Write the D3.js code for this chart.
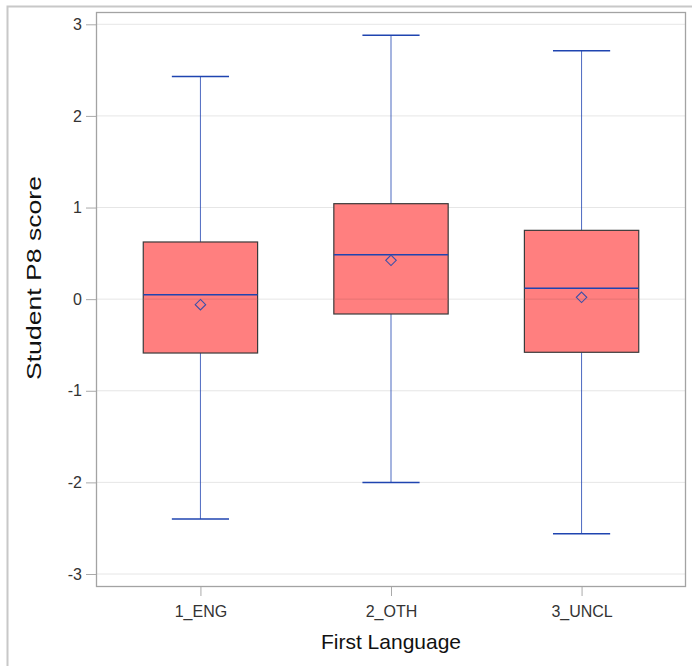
<!DOCTYPE html>
<html><head><meta charset="utf-8">
<script src="https://cdn.jsdelivr.net/npm/d3@7"></script>
<style>body{margin:0;background:#fff}svg{display:block}text{font-family:"Liberation Sans",Arial,sans-serif}</style>
</head><body><svg id="c" width="692" height="666"></svg>
<script>
const categories = ["1_ENG", "2_OTH", "3_UNCL"];
const whiskerMax = [2.43, 2.88, 2.71];
const q3 = [0.624, 1.042, 0.751];
const median = [0.049, 0.485, 0.118];
const mean = [-0.06, 0.424, 0.02];
const q1 = [-0.588, -0.162, -0.58];
const whiskerMin = [-2.40, -2.00, -2.56];
const yTicks = [-3, -2, -1, 0, 1, 2, 3];

const svg = d3.select("#c");
const L = 96, R = 686, T = 12, B = 587;

// outer frame
svg.append("path").attr("d", "M7.5,666V6.5H692").attr("fill", "none").attr("stroke", "#c8c8c8").attr("stroke-width", 2);

const y = d3.scaleLinear().domain([-3, 3]).range([574, 24.3]);
const x = d3.scalePoint().domain(categories).range([L, R]).padding(0.548);
const step = x.step();
const boxW = step * 0.6, capW = boxW / 2;

// gridlines
svg.append("g").selectAll("line").data(yTicks).join("line")
  .attr("x1", L).attr("x2", R).attr("y1", d => y(d)).attr("y2", d => y(d))
  .attr("stroke", "#e6e6e6").attr("stroke-width", 1);

// axes
const yAxis = svg.append("g").attr("transform", `translate(${L},0)`)
  .call(d3.axisLeft(y).tickValues(yTicks).tickSize(10).tickPadding(5).tickFormat(d => String(d)));
const xAxis = svg.append("g").attr("transform", `translate(0,${B})`)
  .call(d3.axisBottom(x).tickSize(9).tickPadding(6));
[yAxis, xAxis].forEach(g => {
  g.select(".domain").remove();
  g.selectAll(".tick line").attr("stroke", "#aaaaaa");
  g.selectAll(".tick text").attr("fill", "#333").attr("font-size", 16).attr("font-family", '"Liberation Sans", Arial, sans-serif');
});
xAxis.selectAll(".tick text").attr("dy", null).attr("y", 30);
yAxis.selectAll(".tick text").attr("x", -14);

const data = categories.map((c, i) => ({c, max: whiskerMax[i], q3: q3[i], med: median[i], mean: mean[i], q1: q1[i], min: whiskerMin[i]}));
const blue = "#1f44b0";
const g = svg.append("g").selectAll("g").data(data).join("g");
// whiskers
g.append("line").attr("x1", d => x(d.c)).attr("x2", d => x(d.c)).attr("y1", d => y(d.max)).attr("y2", d => y(d.q3)).attr("stroke", blue).attr("stroke-opacity", 0.8);
g.append("line").attr("x1", d => x(d.c)).attr("x2", d => x(d.c)).attr("y1", d => y(d.q1)).attr("y2", d => y(d.min)).attr("stroke", blue).attr("stroke-opacity", 0.8);
g.append("line").attr("x1", d => x(d.c) - capW / 2).attr("x2", d => x(d.c) + capW / 2).attr("y1", d => y(d.max)).attr("y2", d => y(d.max)).attr("stroke", blue).attr("stroke-width", 1.5);
g.append("line").attr("x1", d => x(d.c) - capW / 2).attr("x2", d => x(d.c) + capW / 2).attr("y1", d => y(d.min)).attr("y2", d => y(d.min)).attr("stroke", blue).attr("stroke-width", 1.5);
// box
g.append("rect").attr("x", d => x(d.c) - boxW / 2).attr("width", boxW)
  .attr("y", d => y(d.q3)).attr("height", d => y(d.q1) - y(d.q3))
  .attr("fill", "#ff7f7f").attr("stroke", "#3a3a3a").attr("stroke-width", 1.2);
// zero gridline shows through
g.append("line").attr("x1", d => x(d.c) - boxW / 2).attr("x2", d => x(d.c) + boxW / 2).attr("y1", y(0)).attr("y2", y(0)).attr("stroke", "#d06a6a").attr("stroke-width", 1).attr("opacity", 0.5);
// median
g.append("line").attr("x1", d => x(d.c) - boxW / 2).attr("x2", d => x(d.c) + boxW / 2).attr("y1", d => y(d.med)).attr("y2", d => y(d.med)).attr("stroke", blue).attr("stroke-width", 1.5);
// mean diamond
g.append("path").attr("d", d3.symbol(d3.symbolDiamond2, 70)).attr("transform", d => `translate(${x(d.c)},${y(d.mean)})`)
  .attr("fill", "none").attr("stroke", "#3c4fa8").attr("stroke-width", 1.1);

// plot frame
svg.append("rect").attr("x", L + 0.5).attr("y", T + 0.5).attr("width", R - L - 1).attr("height", B - T - 1)
  .attr("fill", "none").attr("stroke", "#a3a3a3").attr("stroke-width", 1.3);

// titles
svg.append("text").attr("x", (L + R) / 2).attr("y", 648.5).attr("text-anchor", "middle").attr("font-size", 21).attr("fill", "#111").text("First Language");
svg.append("text").attr("transform", `translate(41,278) rotate(-90)`).attr("text-anchor", "middle").attr("font-size", 21)
  .attr("textLength", 204).attr("lengthAdjust", "spacingAndGlyphs").attr("fill", "#111").text("Student P8 score");
</script></body></html>
